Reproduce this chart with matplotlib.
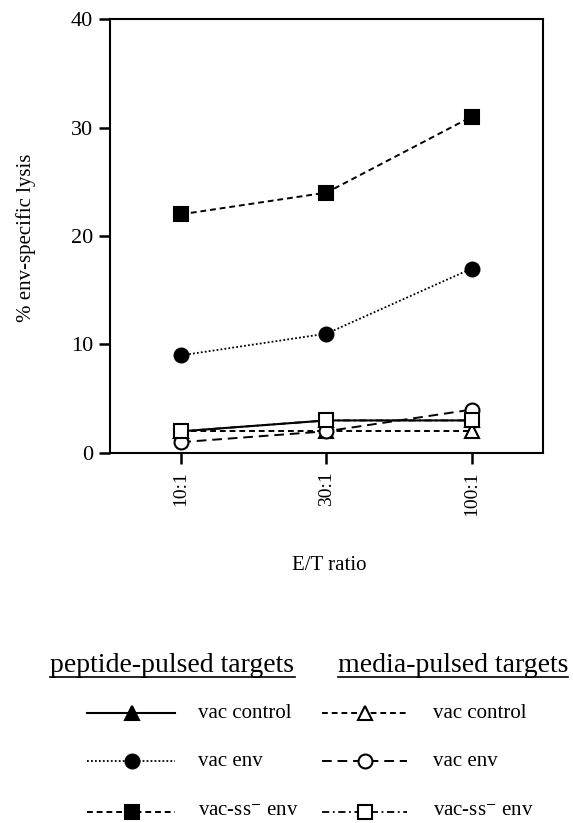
import matplotlib
matplotlib.use("Agg")
import matplotlib.pyplot as plt
from matplotlib.lines import Line2D

plt.rcParams['font.family'] = ['Liberation Serif', 'DejaVu Serif']
plt.rcParams['mathtext.fontset'] = 'stix'

categories = ["10:1", "30:1", "100:1"]
pep_vac_control = [2, 3, 3]
pep_vac_env = [9, 11, 17]
pep_vac_ss_env = [22, 24, 31]
med_vac_control = [2, 2, 2]
med_vac_env = [1, 2, 4]
med_vac_ss_env = [2, 3, 3]

series = [
    (pep_vac_control, dict(ls='-', marker='^', mfc='black', lw=1.5)),
    (pep_vac_env, dict(ls=(0, (1, 1.2)), marker='o', mfc='black', lw=1.3)),
    (pep_vac_ss_env, dict(ls=(0, (3, 2)), marker='s', mfc='black', lw=1.4)),
    (med_vac_control, dict(ls=(0, (3, 2)), marker='^', mfc='white', lw=1.4)),
    (med_vac_env, dict(ls=(0, (5, 3)), marker='o', mfc='white', lw=1.4)),
    (med_vac_ss_env, dict(ls=(0, (4, 2, 1, 2)), marker='s', mfc='white', lw=1.3)),
]

fig = plt.figure(figsize=(5.73, 8.23), dpi=100)
ax = fig.add_axes([0.192, 0.4496, 0.7556, 0.5273])
x = list(range(len(categories)))
for vals, st in series:
    ax.plot(x, vals, color='black', mec='black', mew=1.5, ms=10, **st)

ax.set_xlim(-0.49, 2.49)
ax.set_ylim(0, 40)
ax.set_yticks([0, 10, 20, 30, 40])
ax.set_xticks(x)
ax.set_xticklabels(categories, rotation=90, fontsize=14)
ax.tick_params(axis='y', direction='out', length=8, width=1.8, labelsize=16, pad=4)
ax.tick_params(axis='x', direction='out', length=8, width=1.8, pad=5)
for s in ax.spines.values():
    s.set_linewidth(1.5)

W, H = 573, 823
def fx(px): return px / W
def fy(py): return 1 - py / H

fig.text(fx(26), fy(238), "% env-specific lysis", rotation=90, ha='center', va='center', fontsize=15)
fig.text(fx(329), fy(565), "E/T ratio", ha='center', va='center', fontsize=15)

# Legend headers
hdr_y = 665
for cx, txt, x0, x1 in [(172, "peptide-pulsed targets", 50, 295), (453, "media-pulsed targets", 338, 568)]:
    fig.text(fx(cx), fy(hdr_y), txt, ha='center', va='center', fontsize=20)
    fig.add_artist(Line2D([fx(x0), fx(x1)], [fy(677)] * 2, color='black', lw=1.2))

rows_y = [713, 761, 812]
labels = ["vac control", "vac env", "vac-ss$^{-}$ env"]
left_styles = series[:3]
right_styles = series[3:]
for i, y in enumerate(rows_y):
    for (vals, st), hx0, hx1, mx, tx in [(left_styles[i], 87, 175, 132, 198), (right_styles[i], 322, 407, 365, 433)]:
        fig.add_artist(Line2D([fx(hx0), fx(hx1)], [fy(y)] * 2, color='black',
                              ls=st['ls'], lw=st['lw']))
        fig.add_artist(Line2D([fx(mx)], [fy(y)], color='black', marker=st['marker'],
                              mfc=st['mfc'], mec='black', mew=1.5, ms=10, ls='none'))
        fig.text(fx(tx), fy(y), labels[i], ha='left', va='center', fontsize=15)

fig.savefig("out.png", dpi=100)
